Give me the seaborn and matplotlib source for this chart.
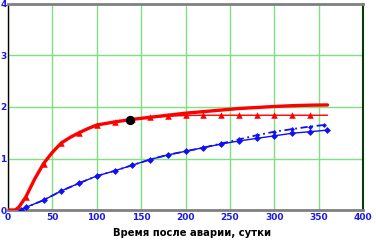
import matplotlib
matplotlib.use("Agg")
import matplotlib.pyplot as plt
import seaborn as sns

# red model curve (thick) and measured curve with triangles (thin)
t_red = [0, 8, 12, 20, 30, 40, 50, 60, 70, 80, 90, 100, 120, 140, 160, 180, 200, 220, 240, 260, 280, 300, 320, 340, 360]
red_thick = [0.0, 0.0, 0.05, 0.25, 0.6, 0.9, 1.12, 1.3, 1.41, 1.5, 1.58, 1.65, 1.71, 1.76, 1.8, 1.84, 1.88, 1.91, 1.94, 1.97, 1.99, 2.01, 2.025, 2.035, 2.04]
red_thin = [0.0, 0.0, 0.05, 0.25, 0.6, 0.9, 1.12, 1.3, 1.41, 1.5, 1.58, 1.65, 1.71, 1.76, 1.8, 1.82, 1.835, 1.84, 1.84, 1.84, 1.84, 1.84, 1.84, 1.84, 1.84]
t_tri = [20, 40, 60, 80, 100, 120, 140, 160, 180, 200, 220, 240, 260, 280, 300, 320, 340]

# blue curves
t_blue = [15, 20, 40, 60, 80, 100, 120, 140, 160, 180, 200, 220, 240, 260, 280, 300, 320, 340, 359]
blue_solid = [0.0, 0.05, 0.19, 0.37, 0.52, 0.66, 0.76, 0.87, 0.98, 1.07, 1.14, 1.21, 1.28, 1.34, 1.39, 1.44, 1.49, 1.52, 1.55]
t_blue2 = [15, 20, 40, 60, 80, 100, 120, 140, 160, 180, 200, 220, 240, 260, 280, 300, 320, 340, 356]
blue_dash = [0.0, 0.05, 0.19, 0.37, 0.52, 0.66, 0.76, 0.87, 0.98, 1.07, 1.14, 1.21, 1.29, 1.37, 1.45, 1.52, 1.57, 1.62, 1.65]

point_x = [137]
point_y = [1.75]

xticks = [0, 50, 100, 150, 200, 250, 300, 350, 400]
yticks = [0, 1, 2, 3, 4]
xlabel = "Время после аварии, сутки"

sns.set_style("white")
plt.rcParams["font.family"] = ["DejaVu Sans"]

fig = plt.figure(figsize=(3.76, 2.43), dpi=100)
ax = fig.add_axes([8 / 376, 33 / 243, 355 / 376, 206 / 243])

red = "#ff0000"
blue = "#1010f0"

sns.lineplot(x=t_red, y=red_thin, ax=ax, color=red, linewidth=1.0, estimator=None, sort=False, zorder=3)
tri_y = [red_thin[t_red.index(v)] for v in t_tri]
sns.scatterplot(x=t_tri, y=tri_y, ax=ax, color=red, marker="^", s=22, linewidth=0, zorder=4)
sns.lineplot(x=t_red, y=red_thick, ax=ax, color=red, linewidth=2.4, estimator=None, sort=False, zorder=5)

sns.lineplot(x=t_blue2, y=blue_dash, ax=ax, color=blue, linewidth=1.3, estimator=None, sort=False,
             zorder=3, marker="D", markersize=2.5, markeredgewidth=0)
ax.lines[-1].set_dashes([4, 2, 1, 2])
sns.lineplot(x=t_blue, y=blue_solid, ax=ax, color=blue, linewidth=1.0, estimator=None, sort=False,
             zorder=3, marker="D", markersize=3.5, markeredgewidth=0)

sns.scatterplot(x=point_x, y=point_y, ax=ax, color="black", s=45, linewidth=0, zorder=6)

ax.set_xlim(0, 400)
ax.set_ylim(0, 4)
ax.set_xticks(xticks)
ax.set_yticks(yticks)
ax.grid(True, color="#7ee07e", linewidth=1.0)
ax.tick_params(length=0, pad=2, labelsize=6.5, labelcolor="#1a1ae6")
for lab in ax.get_xticklabels() + ax.get_yticklabels():
    lab.set_fontweight("bold")
ax.tick_params(axis="y", pad=1)
ax.set_xlabel(xlabel, fontsize=7.2, fontweight="bold", color="black", labelpad=5)
ax.xaxis.set_label_coords(0.518, -0.085)
ax.set_ylabel("")

ax.spines["left"].set_color("black")
ax.spines["left"].set_linewidth(1.0)
ax.spines["bottom"].set_color("#808080")
ax.spines["bottom"].set_linewidth(2.0)
ax.spines["top"].set_color("#808080")
ax.spines["top"].set_linewidth(2.0)
ax.spines["right"].set_color("#0a3a0a")
ax.spines["right"].set_linewidth(1.5)
ax.set_axisbelow(True)

fig.savefig("out.png", dpi=100)
